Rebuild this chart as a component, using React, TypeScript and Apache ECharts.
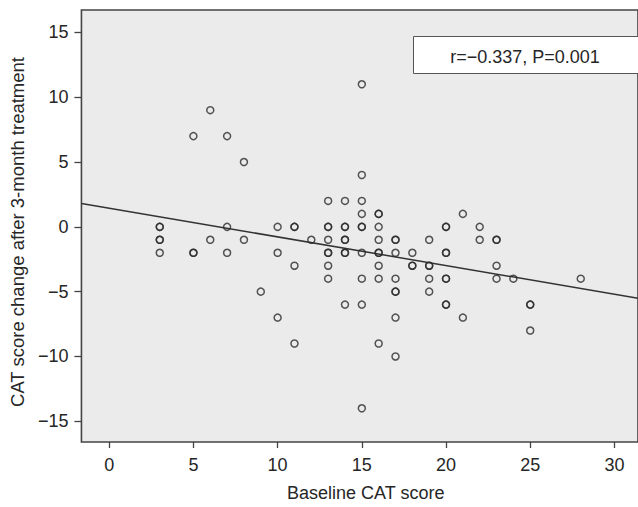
import React, { useEffect, useRef } from "react";
import * as echarts from "echarts";

// Baseline CAT score (x) and CAT change after 3 months (y), one entry per patient
const baselineScores = [
  3, 3, 3, 3, 3,
  5, 5, 5,
  6, 6,
  7, 7, 7,
  8, 8,
  9,
  10, 10, 10,
  11, 11, 11, 11,
  12,
  13, 13, 13, 13, 13, 13, 13, 13,
  14, 14, 14, 14, 14, 14, 14, 14,
  15, 15, 15, 15, 15, 15, 15, 15, 15, 15,
  16, 16, 16, 16, 16, 16, 16, 16, 16,
  17, 17, 17, 17, 17, 17, 17, 17,
  18, 18, 18,
  19, 19, 19, 19, 19,
  20, 20, 20, 20, 20, 20, 20, 20,
  21, 21,
  22, 22,
  23, 23, 23, 23,
  24,
  25, 25, 25,
  28,
];
const changeScores = [
  0, 0, -1, -1, -2,
  7, -2, -2,
  9, -1,
  7, 0, -2,
  5, -1,
  -5,
  0, -2, -7,
  0, 0, -3, -9,
  -1,
  2, 0, 0, -1, -2, -2, -3, -4,
  2, 0, 0, -1, -1, -2, -2, -6,
  11, 4, 2, 1, 0, 0, -2, -4, -6, -14,
  1, 1, 0, -1, -2, -2, -3, -4, -9,
  -1, -1, -2, -4, -5, -5, -7, -10,
  -2, -3, -3,
  -1, -3, -3, -4, -5,
  0, 0, -2, -2, -4, -4, -6, -6,
  1, -7,
  0, -1,
  -1, -1, -3, -4,
  -4,
  -6, -6, -8,
  -4,
];

const xTickValues = [0, 5, 10, 15, 20, 25, 30];
const yTickValues = [-15, -10, -5, 0, 5, 10, 15];
const xRange = [-1.65, 31.4];
const yRange = [-16.6, 16.73];

const regIntercept = 1.435;
const regSlope = -0.221;
const annotation = "r=\u22120.337, P=0.001";

const FONT = "Liberation Sans, Arial, sans-serif";
const TEXT = "#262626";
const FS = 18;

export default function App() {
  const ref = useRef<HTMLDivElement>(null);

  useEffect(() => {
    if (!ref.current) return;
    const chart = echarts.init(ref.current, null, { renderer: "svg" });
    const points = baselineScores.map((x, i) => [x, changeScores[i]]);
    const lineData = [xRange[0], xRange[1]].map((x) => [x, regIntercept + regSlope * x]);

    chart.setOption({
      animation: false,
      backgroundColor: "#ffffff",
      grid: {
        left: 76,
        top: 10,
        right: -1,
        bottom: 59,
        show: true,
        backgroundColor: "#ebebec",
        borderColor: "#444",
        borderWidth: 1.6,
      },
      xAxis: {
        type: "value",
        min: xRange[0],
        max: xRange[1],
        splitLine: { show: false },
        axisLine: { show: false, onZero: false },
        axisTick: {
          show: true,
          length: 6,
          customValues: xTickValues,
          lineStyle: { color: "#444", width: 1.3 },
        },
        axisLabel: {
          customValues: xTickValues,
          margin: 14,
          fontSize: FS,
          color: TEXT,
          fontFamily: FONT,
        },
        name: "Baseline CAT score",
        nameLocation: "middle",
        nameGap: 42,
        nameTextStyle: { fontSize: FS, color: TEXT, fontFamily: FONT, padding: [0, 0, 0, 12] },
      },
      yAxis: {
        type: "value",
        min: yRange[0],
        max: yRange[1],
        splitLine: { show: false },
        axisLine: { show: false, onZero: false },
        axisTick: {
          show: true,
          length: 7,
          customValues: yTickValues,
          lineStyle: { color: "#444", width: 1.3 },
        },
        axisLabel: {
          customValues: yTickValues,
          margin: 13,
          fontSize: FS,
          color: TEXT,
          fontFamily: FONT,
          formatter: (v: number) => (v < 0 ? "\u2212" + Math.abs(v) : String(v)),
        },
        name: "CAT score change after 3-month treatment",
        nameLocation: "middle",
        nameGap: 49,
        nameTextStyle: { fontSize: 18.5, color: TEXT, fontFamily: FONT, padding: [0, 12, 0, 0] },
      },
      series: [
        {
          type: "line",
          data: lineData,
          symbol: "none",
          silent: true,
          lineStyle: { color: "#333", width: 1.5 },
          z: 2,
        },
        {
          type: "scatter",
          data: points,
          symbol: "circle",
          symbolSize: 7,
          itemStyle: { color: "rgba(0,0,0,0)", borderColor: "#2a2a2a", borderWidth: 1.5 },
          z: 3,
        },
      ],
      graphic: [
        {
          type: "rect",
          left: 413,
          top: 36,
          shape: { width: 240, height: 37 },
          style: { fill: "#ffffff", stroke: "#555", lineWidth: 1 },
          z: 10,
        },
        {
          type: "text",
          x: 525,
          y: 57,
          style: {
            text: annotation,
            fontSize: FS,
            fontFamily: FONT,
            fill: TEXT,
            textAlign: "center",
            textVerticalAlign: "middle",
          },
          z: 11,
        },
      ],
    });
    return () => chart.dispose();
  }, []);

  return (
    <div
      ref={ref}
      style={{ position: "fixed", left: 0, top: 0, width: 638, height: 507 }}
    />
  );
}
